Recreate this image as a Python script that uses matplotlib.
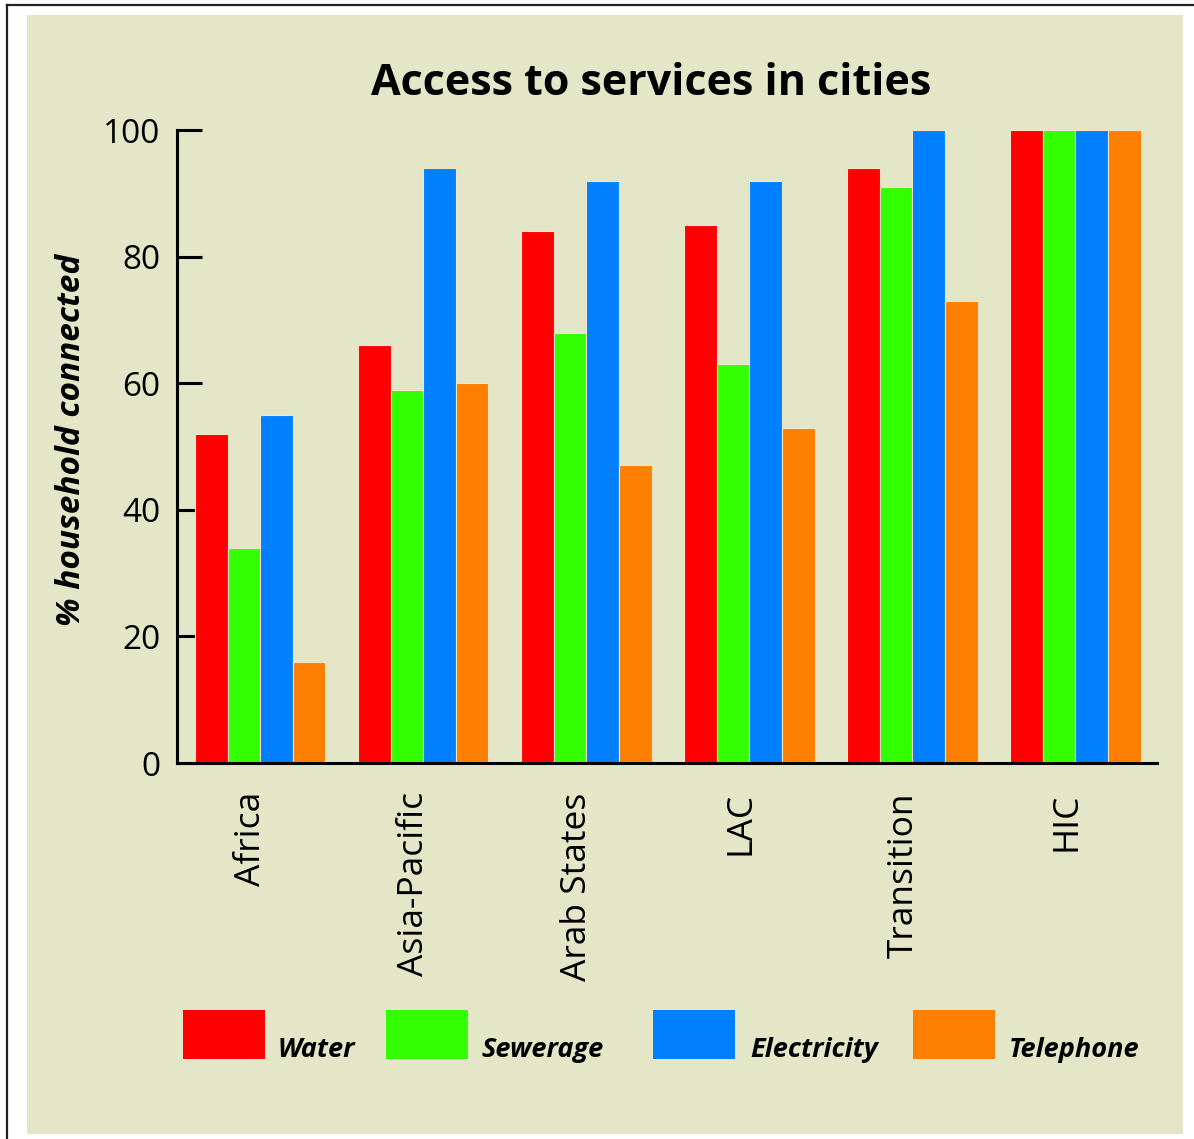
import numpy as np
import matplotlib.pyplot as plt
from matplotlib.patches import Rectangle
from matplotlib.lines import Line2D

# ---------------------------------------------------------------
# Data
# ---------------------------------------------------------------
regions = ["Africa", "Asia-Pacific", "Arab States", "LAC", "Transition", "HIC"]
services = ["Water", "Sewerage", "Electricity", "Telephone"]
water       = [52, 66, 84, 85, 94, 100]
sewerage    = [34, 59, 68, 63, 91, 100]
electricity = [55, 94, 92, 92, 100, 100]
telephone   = [16, 60, 47, 53, 73, 100]
yticks = [0, 20, 40, 60, 80, 100]

colors = ["#ff0000", "#33ff00", "#0080ff", "#ff8000"]
panel = "#e3e6c7"

W, H = 1194, 1139
fig = plt.figure(figsize=(W / 100, H / 100), dpi=100, facecolor="white")

def fx(px): return px / W
def fy(py): return 1 - py / H

# beige panel + frame lines
fig.patches.append(Rectangle((fx(27), fy(1134)), fx(1183) - fx(27), fy(15) - fy(1134),
                             transform=fig.transFigure, facecolor=panel, edgecolor="none", zorder=-5))
fig.lines.append(Line2D([fx(7), fx(7)], [fy(5), 0], transform=fig.transFigure, color="#222222", lw=1.6))
fig.lines.append(Line2D([fx(7), 1], [fy(5), fy(5)], transform=fig.transFigure, color="#222222", lw=1.6))

ax = fig.add_axes([fx(177), fy(763), fx(1157) - fx(177), fy(130) - fy(763)])
ax.set_facecolor("none")

x = np.arange(len(regions))
bw = 0.2
for i, (vals, col) in enumerate(zip([water, sewerage, electricity, telephone], colors)):
    ax.bar(x - 0.3 + i * bw, vals, width=bw, color=col, edgecolor="#f3e3c8", linewidth=0.8, zorder=2)

ax.set_xlim(-0.51, 5.5)
ax.set_ylim(0, 100)
ax.set_yticks(yticks)
ax.set_yticklabels([str(v) for v in yticks], fontsize=24, family="Open Sans")
ax.tick_params(axis="y", direction="in", length=18, width=2.2, pad=12)
ax.set_xticks(x)
ax.set_xticklabels(regions, rotation=90, fontsize=25.5, family="Open Sans",
                   rotation_mode="anchor", ha="right", va="baseline")
ax.tick_params(axis="x", length=0, pad=21)
for s in ["top", "right"]:
    ax.spines[s].set_visible(False)
for s in ["left", "bottom"]:
    ax.spines[s].set_linewidth(2.2)
    ax.spines[s].set_zorder(3)

fig.text(fx(651), fy(95), "Access to services in cities", ha="center", va="baseline",
         fontsize=31, fontweight="bold", family="Open Sans")
fig.text(fx(72), fy(440), "% household connected", ha="center", va="center", rotation=90,
         fontsize=24, fontweight="bold", style="italic", family="Open Sans")

# legend
patch_x = [183, 386, 653, 913]
text_x = [278, 481, 750, 1009]
for name, col, px, tx in zip(services, colors, patch_x, text_x):
    fig.patches.append(Rectangle((fx(px), fy(1059)), fx(82), fy(1010) - fy(1059),
                                 transform=fig.transFigure, facecolor=col, edgecolor="none"))
    fig.text(fx(tx), fy(1057), name, ha="left", va="baseline", fontsize=19.5,
             fontweight="bold", style="italic", family="Open Sans")

fig.savefig("out.png", dpi=100, facecolor="white")
